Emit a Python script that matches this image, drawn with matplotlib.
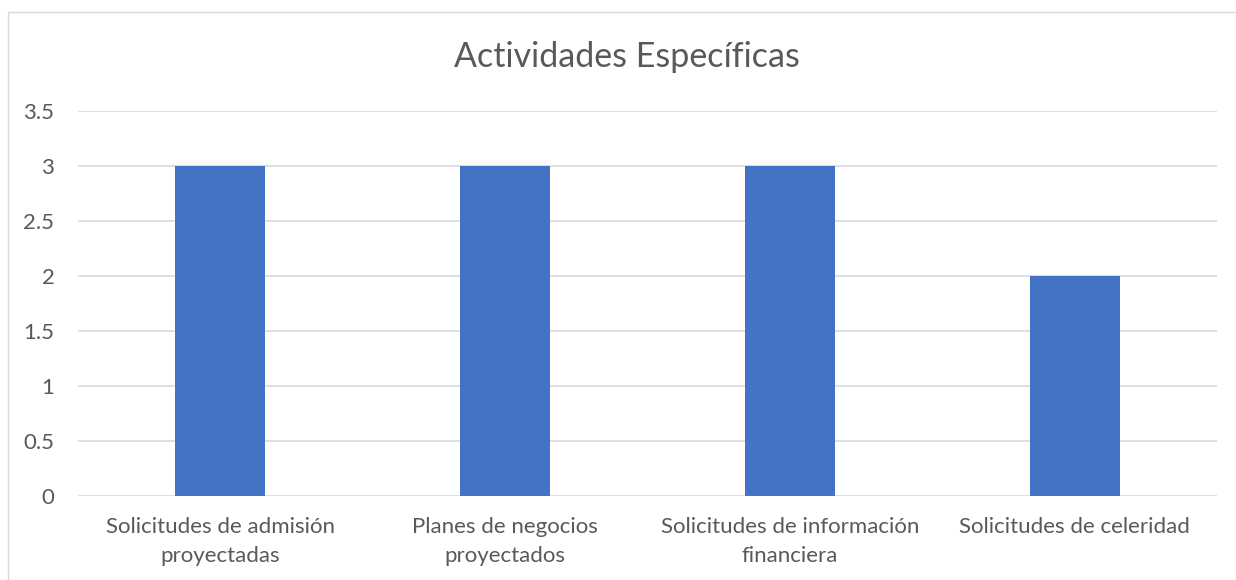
import matplotlib.pyplot as plt
from matplotlib.patches import Rectangle

# Data
categories = ["Solicitudes de admisión\nproyectadas", "Planes de negocios\nproyectados",
              "Solicitudes de información\nfinanciera", "Solicitudes de celeridad"]
values = [3, 3, 3, 2]
yticks = [0, 0.5, 1, 1.5, 2, 2.5, 3, 3.5]
ytick_labels = ["0", "0.5", "1", "1.5", "2", "2.5", "3", "3.5"]

plt.rcParams['font.family'] = ['Lato', 'DejaVu Sans']
text_color = '#595959'

fig = plt.figure(figsize=(12.36, 5.80), dpi=100)
ax = fig.add_axes([78 / 1236, 1 - 496 / 580, (1217 - 78) / 1236, (496 - 111) / 580])

x = range(len(categories))
ax.bar(x, values, width=0.316, color='#4472C4', zorder=3)

ax.set_xlim(-0.5, len(categories) - 0.5)
ax.set_ylim(0, 3.5)
ax.set_yticks(yticks)
ax.set_yticklabels(ytick_labels)
ax.set_xticks(list(x))
ax.set_xticklabels(categories, linespacing=1.6)
ax.yaxis.grid(True, color='#d9d9d9', linewidth=1.2, zorder=0)
ax.tick_params(axis='both', length=0, labelsize=16, colors=text_color)
ax.tick_params(axis='y', pad=17)
ax.tick_params(axis='x', pad=15)
for s in ax.spines.values():
    s.set_visible(False)

fig.text(627 / 1236, 1 - 57 / 580, "Actividades Específicas", ha='center', va='center',
         fontsize=24.5, color=text_color)

# Chart area border
fig.patches.append(Rectangle((8 / 1236, -0.1), 2, 1 - 12 / 580 + 0.1,
                             transform=fig.transFigure, fill=False,
                             edgecolor='#d9d9d9', linewidth=1, zorder=0))

fig.savefig('out.png', dpi=100)
